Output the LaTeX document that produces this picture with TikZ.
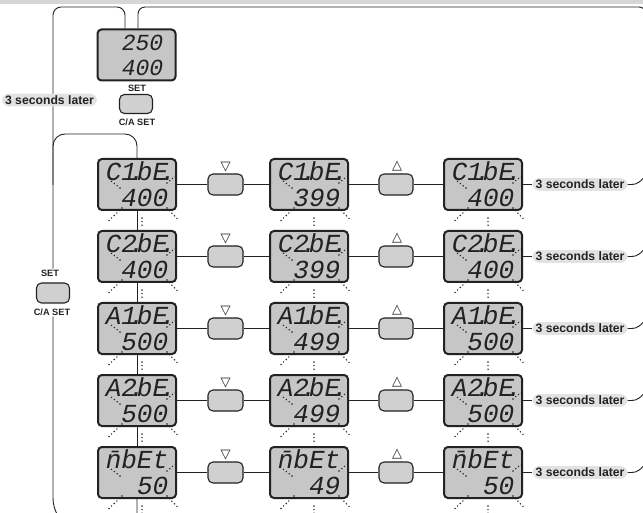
\documentclass[tikz,border=0pt]{standalone}
\usepackage{fontspec}
\setmainfont{Liberation Sans}
\newfontfamily\lcdfont{Liberation Mono}
\newfontfamily\symfont{DejaVu Sans}
\usetikzlibrary{calc}
\definecolor{lcdgray}{RGB}{198,198,198}
\definecolor{btngray}{RGB}{208,208,208}
\definecolor{lblgray}{RGB}{226,226,226}
\definecolor{bandgray}{RGB}{214,214,214}
\definecolor{ink}{RGB}{34,34,34}
\newcommand\ldot{\makebox[0pt]{.}}
\tikzset{
  lcdbox/.style={draw=ink, line width=2pt, fill=lcdgray, rounded corners=4pt,
    minimum width=78pt, minimum height=51pt, inner sep=0pt, align=right,
    font=\lcdfont\itshape\fontsize{26}{26}\selectfont, text=ink},
  btn/.style={draw=ink, line width=1.1pt, fill=btngray, rounded corners=5pt,
    minimum width=33pt, minimum height=19pt, inner sep=0pt},
  lbl/.style={fill=lblgray, rounded corners=7pt, inner xsep=3pt, inner ysep=2pt,
    font=\bfseries\fontsize{12.2}{13}\selectfont, text=ink},
  small/.style={font=\bfseries\fontsize{9.2}{10}\selectfont, text=ink, inner sep=1pt},
  tri/.style={font=\symfont\fontsize{13}{13}\selectfont, text=ink, inner sep=0pt},
  conn/.style={draw=ink, line width=0.9pt},
  blink/.style={draw=ink, line width=1.6pt, line cap=round, dash pattern=on 0pt off 3.6pt}
}
\newcommand\lcdat[4]{%
  \node[lcdbox] (#1) at (#2) {#3\\#4};
  \draw[blink] ($(#1.center)+(-17,3.5)$) -- ($(#1.center)+(-26,-3.5)$);
  \draw[blink] ($(#1.center)+(30,-1.5)$) -- ($(#1.center)+(39,-9)$);
  \draw[blink] ($(#1.center)+(-15,23.5)$) -- ($(#1.center)+(-28,36)$);
  \draw[blink] ($(#1.center)+(5,33.5)$) -- ($(#1.center)+(5,43)$);
  \draw[blink] ($(#1.center)+(30,23.5)$) -- ($(#1.center)+(42,36)$);
}
\begin{document}
\begin{tikzpicture}[x=1pt,y=-1pt]
\useasboundingbox (0,0) rectangle (643,513);
\fill[bandgray] (0,0) rectangle (643,4.5);
\coordinate (lx) at (53,0);
% top display and SET button
\node[lcdbox, font=\lcdfont\itshape\fontsize{23}{25}\selectfont] (top) at (136.5,55) {\hspace*{12pt}250\\400};
\node[small] (set0) at (137,88) {SET};
\node[btn] (btn0) at (136,104) {};
\node[small] (ca0) at (137,122) {C/A SET};
% left SET button
\node[small] (setL) at (50,273) {SET};
\node[btn, minimum height=20pt] (btnL) at (53,293) {};
\node[small] (caL) at (52,312) {C/A SET};
% outer loops
\draw[conn, rounded corners=8pt] ($(top.north)+(-11.5,0)$) |- (53,7) -- (lx |- setL.north);
\draw[conn] (lx |- caL.south) -- (53,497) .. controls (53,506) and (55,510) .. (58,516);
\draw[conn, rounded corners=7pt] ($(top.north)+(1.5,0)$) |- (646,7) -- (646,60);
\node[lbl] (lblL) at (49.5,100) {3 seconds later};
% grid of displays
\lcdat{c11}{137,184.5}{C1\ldot bE\ldot}{400}
\lcdat{c12}{309,184.5}{C1\ldot bE\ldot}{399}
\lcdat{c13}{483,184.5}{C1\ldot bE\ldot}{400}
\lcdat{c21}{137,256.5}{C2\ldot bE\ldot}{400}
\lcdat{c22}{309,256.5}{C2\ldot bE\ldot}{399}
\lcdat{c23}{483,256.5}{C2\ldot bE\ldot}{400}
\lcdat{c31}{137,328.5}{A1\ldot bE\ldot}{500}
\lcdat{c32}{309,328.5}{A1\ldot bE\ldot}{499}
\lcdat{c33}{483,328.5}{A1\ldot bE\ldot}{500}
\lcdat{c41}{137,400.5}{A2\ldot bE\ldot}{500}
\lcdat{c42}{309,400.5}{A2\ldot bE\ldot}{499}
\lcdat{c43}{483,400.5}{A2\ldot bE\ldot}{500}
\lcdat{c51}{137,472.5}{n̄bEt}{50}
\lcdat{c52}{309,472.5}{n̄bEt}{49}
\lcdat{c53}{483,472.5}{n̄bEt}{50}
% inner loop
\draw[conn, rounded corners=12pt] (53,185) |- ($(c11.north)+(0,-24)$) -- (c11.north);
\draw[conn] (c11.south) -- (c21.north);
\draw[conn] (c21.south) -- (c31.north);
\draw[conn] (c31.south) -- (c41.north);
\draw[conn] (c41.south) -- (c51.north);
\draw[conn] (c51.south) -- ($(c51.south)+(0,16)$) .. controls ($(c51.south)+(0,21)$) and ($(c51.south)+(-1,23)$) .. ($(c51.south)+(-3,28)$);
% rows of buttons and labels
\foreach \r/\y in {1/184.5,2/256.5,3/328.5,4/400.5,5/472.5}{
  \node[btn, minimum width=35pt, minimum height=21pt] (bd\r) at (225.5,\y) {};
  \node[btn, minimum width=34pt, minimum height=21pt] (bu\r) at (396,\y) {};
  \node[tri] (td\r) at ($(bd\r)+(0,-17.5)$) {▽};
  \node[tri] (tu\r) at ($(bu\r)+(1,-18.5)$) {△};
  \node[lbl] (l\r) at (580,\y) {3 seconds later};
  \draw[conn] (c\r1) -- (bd\r) -- (c\r2) -- (bu\r) -- (c\r3) -- (l\r);
  \draw[conn] (l\r.east) -- ($(l\r.east)+(4,0)$) .. controls ($(l\r.east)+(10,0)$) and ($(l\r.east)+(13,-3)$) .. ($(l\r.east)+(19,-10)$);
}
\end{tikzpicture}
\end{document}
